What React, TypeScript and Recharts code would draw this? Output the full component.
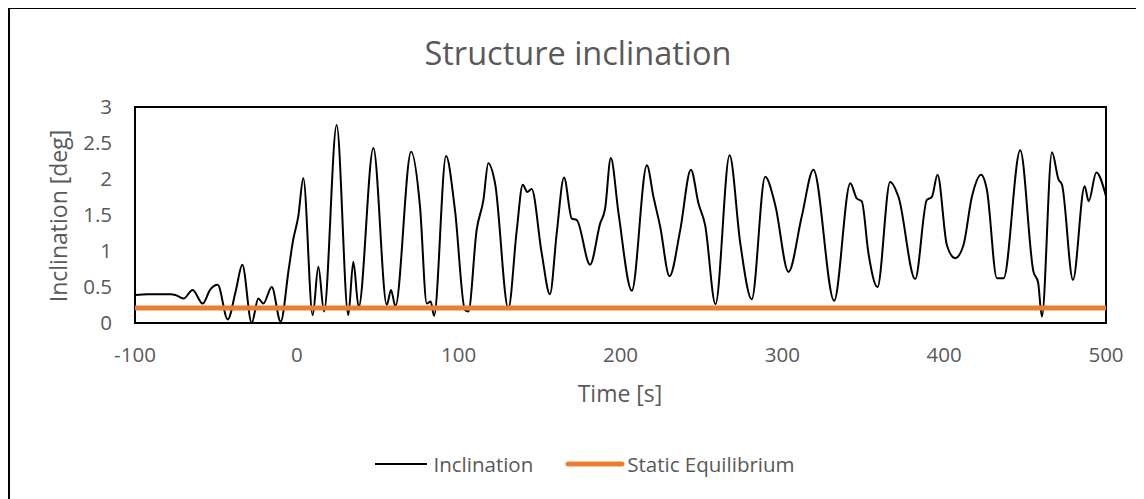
import React from 'react';
import { LineChart, Line, XAxis, YAxis, ReferenceArea, Legend } from 'recharts';

const times: number[] = [
  -100, -92, -85, -78, -75, -70, -64.4, -58.2, -53.6, -48.9, -42.7, -37.6, -33.7, -27.9, -23.8, -20.7, -15.5, -10, -5, -2.3,
  0.9, 4, 9.8, 13.3, 16.8, 24.6, 31.8, 34.9, 38.2, 47.3, 55.6, 58.2, 60.9, 70.6, 76.1, 80.3, 82.7, 84.8, 92.2, 97.7,
  103.9, 106, 111.1, 115.3, 118.3, 122.5, 130.7, 135.9, 139.6, 142.4, 145.1, 151.3, 156.4, 160.6, 165.1, 169.9, 173, 181.2, 187.4, 190.5,
  194, 198.8, 207, 216.3, 220.4, 224.5, 230.3, 236.9, 243.5, 248.2, 252.3, 258.7, 267.4, 274, 281.1, 289.4, 295.6, 303.8, 312, 319.2,
  332, 342, 346, 349.1, 353.2, 358.8, 366.6, 371.8, 382.1, 389.3, 392.4, 395.9, 401.7, 406.8, 411.9, 417.1, 422.9, 426.4, 432.6, 436.7,
  447, 455.2, 458, 460.4, 466.6, 470.7, 472.8, 479.6, 486.8, 489.3, 494, 500,
];

const inclination: number[] = [
  0.39, 0.4, 0.4, 0.4, 0.39, 0.34, 0.46, 0.27, 0.46, 0.53, 0.05, 0.46, 0.81, 0.0, 0.34, 0.27, 0.5, 0.02, 0.75, 1.15,
  1.48, 2.01, 0.11, 0.78, 0.16, 2.75, 0.11, 0.85, 0.22, 2.43, 0.25, 0.46, 0.23, 2.38, 1.62, 0.27, 0.3, 0.1, 2.32, 1.57,
  0.18, 0.16, 1.29, 1.71, 2.22, 1.94, 0.2, 1.29, 1.92, 1.82, 1.86, 0.97, 0.4, 1.25, 2.02, 1.45, 1.43, 0.81, 1.38, 1.59,
  2.29, 1.52, 0.45, 2.19, 1.75, 1.34, 0.65, 1.29, 2.13, 1.66, 1.36, 0.26, 2.33, 1.11, 0.33, 2.03, 1.64, 0.71, 1.48, 2.13,
  0.31, 1.94, 1.73, 1.69, 0.97, 0.5, 1.96, 1.75, 0.61, 1.71, 1.75, 2.06, 1.08, 0.9, 1.08, 1.75, 2.06, 1.85, 0.62, 0.62,
  2.4, 0.71, 0.57, 0.09, 2.37, 1.99, 1.92, 0.6, 1.9, 1.69, 2.09, 1.76,
];

const staticEquilibrium = 0.21;

const xTicks: number[] = [-100, 0, 100, 200, 300, 400, 500];
const yTicks: number[] = [0, 0.5, 1, 1.5, 2, 2.5, 3];

const data = times.map((t, i) => ({ t, inc: inclination[i], eq: staticEquilibrium }));

const FONT = '"Open Sans", sans-serif';
const TXT = '#595959';

const LegendContent = () => (
  <div style={{ display: 'flex', justifyContent: 'center', alignItems: 'center', fontFamily: FONT, fontSize: 20.5, color: TXT, paddingLeft: 18 }}>
    <svg width={52} height={10} style={{ marginRight: 6 }}>
      <line x1={0} y1={5} x2={52} y2={5} stroke="#000" strokeWidth={2} />
    </svg>
    <span>Inclination</span>
    <svg width={60} height={10} style={{ marginLeft: 32, marginRight: 2 }}>
      <line x1={3} y1={5} x2={57} y2={5} stroke="#ED7D31" strokeWidth={5} strokeLinecap="round" />
    </svg>
    <span>Static Equilibrium</span>
  </div>
);

export default function App() {
  return (
    <div style={{ position: 'relative', width: 1136, height: 491 }}>
      <div style={{ position: 'absolute', left: 0, top: -1, width: 1140, height: 495, borderTop: '2px solid #000', borderLeft: '2px solid #000' }} />
      <div style={{ position: 'absolute', left: 0, width: 1140, top: 22, textAlign: 'center', fontFamily: FONT, fontSize: 32.5, color: TXT, lineHeight: 'normal' }}>
        Structure inclination
      </div>
      <div style={{ position: 'absolute', left: 612 - 200, width: 400, top: 369, textAlign: 'center', fontFamily: FONT, fontSize: 23, color: TXT, lineHeight: 'normal' }}>
        Time [s]
      </div>
      <div style={{ position: 'absolute', left: 50 - 200, top: 208 - 14, width: 400, height: 28, textAlign: 'center', fontFamily: FONT, fontSize: 23, color: TXT, transform: 'rotate(-90deg)', lineHeight: '28px' }}>
        Inclination [deg]
      </div>
      <LineChart width={1136} height={491} data={data} margin={{ top: 99, right: 38, left: 0, bottom: 146 }}>
        <XAxis
          type="number"
          dataKey="t"
          domain={[-100, 500]}
          ticks={xTicks}
          axisLine={false}
          tickLine={false}
          tickSize={6}
          tickMargin={18}
          height={30}
          interval={0}
          tick={{ fill: TXT, fontSize: 20.5, fontFamily: FONT }}
        />
        <YAxis
          type="number"
          domain={[0, 3]}
          ticks={yTicks}
          axisLine={false}
          tickLine={false}
          tickSize={6}
          tickMargin={17}
          width={127}
          interval={0}
          tick={{ fill: TXT, fontSize: 20.5, fontFamily: FONT }}
        />
        <Line type="monotone" dataKey="inc" stroke="#000" strokeWidth={2} dot={false} isAnimationActive={false} />
        <Line type="linear" dataKey="eq" stroke="#ED7D31" strokeWidth={5} dot={false} isAnimationActive={false} />
        <ReferenceArea x1={-100} x2={500} y1={0} y2={3} fill="none" stroke="#000" strokeWidth={2} ifOverflow="visible" />
        <Legend
          layout="horizontal"
          verticalAlign="middle"
          align="center"
          content={<LegendContent />}
          wrapperStyle={{ top: 442, left: 0, width: 1136 }}
        />
      </LineChart>
    </div>
  );
}
